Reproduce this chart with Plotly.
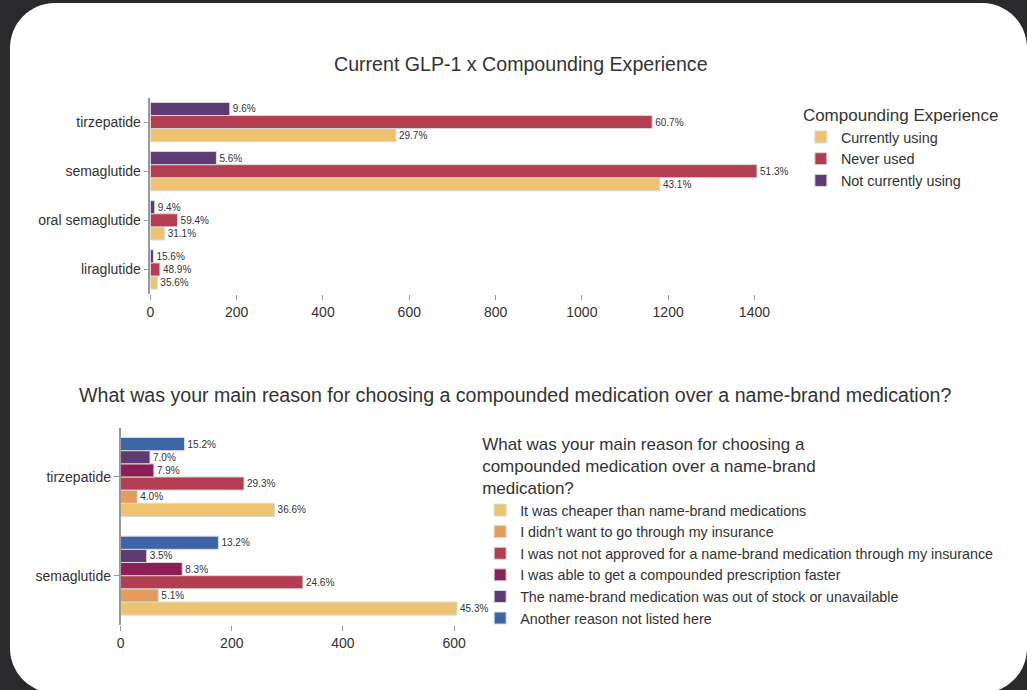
import plotly.graph_objects as go

# ---- Data: current GLP-1 by compounding experience (respondent counts) ----
glp1_drugs = ["tirzepatide", "semaglutide", "oral semaglutide", "liraglutide"]
exp_groups = ["Currently using", "Never used", "Not currently using"]
currently_using = [569, 1181, 33, 16]
never_used = [1163, 1406, 63, 22]
not_currently_using = [184, 153, 10, 7]
exp_colors = ["#ECC36F", "#B33E52", "#5E3B73"]

# ---- Data: main reason for choosing a compounded medication ----
reason_drugs = ["tirzepatide", "semaglutide"]
reasons = [
    "It was cheaper than name-brand medications",
    "I didn\u2019t want to go through my insurance",
    "I was not not approved for a name-brand medication through my insurance",
    "I was able to get a compounded prescription faster",
    "The name-brand medication was out of stock or unavailable",
    "Another reason not listed here",
]
reason_cheaper = [277, 605]
reason_insurance = [30, 68]
reason_not_approved = [222, 328]
reason_faster = [60, 111]
reason_out_of_stock = [53, 47]
reason_other = [115, 176]
reason_colors = ["#ECC36F", "#E59B5B", "#B33E52", "#8B2057", "#5E3B73", "#3D64A6"]

W, H = 1027, 690
FONT = "Liberation Sans, Arial, Helvetica, sans-serif"
TXT = "#333333"


def px_x(v):
    return v / W


def px_y(v):
    return 1 - v / H


def shares(series_list):
    totals = [sum(vals) for vals in zip(*series_list)]
    return [[f"{v / t * 100:.1f}%" for v, t in zip(s, totals)] for s in series_list]


fig = go.Figure()

bar_line = dict(color="#DADADA", width=1)

exp_series = [currently_using, never_used, not_currently_using]
for name, vals, labels, col in zip(exp_groups, exp_series, shares(exp_series), exp_colors):
    fig.add_trace(go.Bar(
        y=glp1_drugs, x=vals, orientation="h", name=name,
        marker=dict(color=col, line=bar_line),
        text=labels, textposition="outside", cliponaxis=False,
        textfont=dict(size=10, color=TXT, family=FONT),
        xaxis="x", yaxis="y", legend="legend",
    ))

reason_series = [reason_cheaper, reason_insurance, reason_not_approved,
                 reason_faster, reason_out_of_stock, reason_other]
for name, vals, labels, col in zip(reasons, reason_series, shares(reason_series), reason_colors):
    fig.add_trace(go.Bar(
        y=reason_drugs, x=vals, orientation="h", name=name,
        marker=dict(color=col, line=bar_line),
        text=labels, textposition="outside", cliponaxis=False,
        textfont=dict(size=10, color=TXT, family=FONT),
        xaxis="x2", yaxis="y2", legend="legend2",
    ))

xaxis_style = dict(showline=False, showgrid=False, zeroline=False, ticks="outside",
                   ticklen=5, tickcolor="#9A9A9A", tickfont=dict(size=14, color=TXT))
yaxis_style = dict(showline=True, linecolor="#9A9A9A", linewidth=1.5, showgrid=False,
                   zeroline=False, ticks="outside", ticklen=5, tickcolor="#9A9A9A",
                   tickfont=dict(size=14, color=TXT), type="category")

# rounded white card on a dark backdrop
L, T, R, B, rad = 6, 3, 1027, 693, 45
k = 0.5523 * rad


def pt(x, y):
    return f"{px_x(x):.5f},{px_y(y):.5f}"


card = (f"M {pt(L + rad, T)} L {pt(R - rad, T)} "
        f"C {pt(R - rad + k, T)} {pt(R, T + rad - k)} {pt(R, T + rad)} "
        f"L {pt(R, B - rad)} "
        f"C {pt(R, B - rad + k)} {pt(R - rad + k, B)} {pt(R - rad, B)} "
        f"L {pt(L + rad, B)} "
        f"C {pt(L + rad - k, B)} {pt(L, B - rad + k)} {pt(L, B - rad)} "
        f"L {pt(L, T + rad)} "
        f"C {pt(L, T + rad - k)} {pt(L + rad - k, T)} {pt(L + rad, T)} Z")

fig.update_layout(
    width=W, height=H,
    margin=dict(l=0, r=0, t=0, b=0),
    paper_bgcolor="#2A2A2C", plot_bgcolor="white",
    font=dict(family=FONT, color=TXT, size=14),
    barmode="group", bargap=0.2, bargroupgap=0,
    shapes=[dict(type="path", path=card, xref="paper", yref="paper",
                 fillcolor="white", line=dict(width=0), layer="below")],
    xaxis=dict(domain=[px_x(147), px_x(788)], range=[0, 1480], anchor="y", **xaxis_style),
    yaxis=dict(domain=[px_y(294), px_y(97.5)], range=[-0.5, 3.5], anchor="x",
               categoryorder="array", categoryarray=glp1_drugs[::-1], **yaxis_style),
    xaxis2=dict(domain=[px_x(117), px_x(468.7)], range=[0, 630], anchor="y2",
                tickvals=[0, 200, 400, 600], **xaxis_style),
    yaxis2=dict(domain=[px_y(625), px_y(427.6)], range=[-0.5, 1.5], anchor="x2",
                categoryorder="array", categoryarray=reason_drugs[::-1], **yaxis_style),
    legend=dict(
        x=px_x(800), y=px_y(99), xanchor="left", yanchor="top",
        title=dict(text="Compounding Experience", font=dict(size=17, color=TXT)),
        font=dict(size=14.4, color=TXT), bgcolor="rgba(0,0,0,0)",
    ),
    legend2=dict(
        x=px_x(478), y=px_y(428), xanchor="left", yanchor="top",
        title=dict(text="What was your main reason for choosing a<br>"
                        "compounded medication over a name-brand<br>medication?",
                   font=dict(size=17, color=TXT)),
        font=dict(size=14.3, color=TXT), bgcolor="rgba(0,0,0,0)",
    ),
    annotations=[
        dict(text="Current GLP-1 x Compounding Experience", x=px_x(519), y=px_y(64),
             xref="paper", yref="paper", xanchor="center", yanchor="middle",
             showarrow=False, font=dict(size=19.6, color=TXT)),
        dict(text="What was your main reason for choosing a compounded medication "
                  "over a name-brand medication?", x=px_x(514), y=px_y(395),
             xref="paper", yref="paper", xanchor="center", yanchor="middle",
             showarrow=False, font=dict(size=19.6, color=TXT)),
    ],
)

fig.write_html("out.html")
